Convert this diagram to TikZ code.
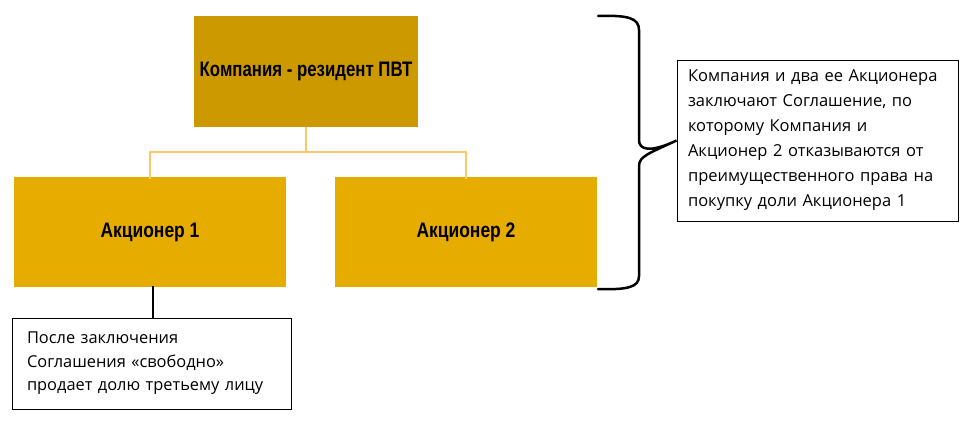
\documentclass[tikz,border=0pt]{standalone}
\usepackage{fontspec}
\setmainfont{Open Sans}
\newfontfamily\narrowfont[FakeStretch=0.83]{Liberation Sans}
\newfontfamily\narrowtopfont[FakeStretch=0.80]{Liberation Sans}
\begin{document}
\begin{tikzpicture}[x=1pt,y=-1pt,
  topbox/.style={fill=topcol,draw=none,inner sep=0pt,font=\narrowtopfont\bfseries\fontsize{21}{24}\selectfont},
  subbox/.style={fill=subcol,draw=none,inner sep=0pt,font=\narrowfont\bfseries\fontsize{21}{24}\selectfont},
  notebox/.style={draw=black,line width=1pt,inner ysep=0pt,align=left},
  link/.style={draw=linkcol,line width=2pt},
  blk/.style={draw=black,line width=2.5pt}]
\definecolor{topcol}{RGB}{204,153,0}
\definecolor{subcol}{RGB}{230,172,0}
\definecolor{linkcol}{RGB}{255,200,100}
\useasboundingbox (0,0) rectangle (973,429);
\node[topbox,minimum width=224,minimum height=111] (top) at (306,71.5) {Компания - резидент ПВТ};
\node[subbox,minimum width=272,minimum height=110] (a1) at (150,232) {Акционер 1};
\node[subbox,minimum width=262,minimum height=110] (a2) at (466,232) {Акционер 2};
\coordinate (mid) at (306,152);
\draw[link] (top.south) -- (mid) -| ([yshift=-2]a1.north);
\draw[link] (mid) -| ([yshift=-2]a2.north);
\node[notebox,font=\fontsize{16.4}{23.5}\selectfont,inner xsep=15pt,minimum width=279,minimum height=91,text width=249] (n1) at (151.5,363.5) {После заключения\\Соглашения «свободно»\\продает долю третьему лицу};
\draw[blk] ([xshift=3,yshift=1]a1.south) -- ([xshift=3]a1.south |- n1.north);
\node[notebox,font=\fontsize{16.5}{25}\selectfont,inner xsep=11pt,minimum width=281,minimum height=161,text width=259] (n2) at (817.5,140.5) {Компания и два ее Акционера\\заключают Соглашение, по\\которому Компания и\\Акционер 2 отказываются от\\преимущественного права на\\покупку доли Акционера 1};
\coordinate (bt) at (598,16);
\coordinate (bb) at (598,289);
\draw[blk,line cap=round] (bt) .. controls (628,15) and (639,18) .. (639,30) -- (639,140) .. controls (639,150) and (650,153) .. (n2.west) .. controls (650,153) and (639,156) .. (639,166) -- (639,276) .. controls (639,287) and (628,290) .. (bb);
\end{tikzpicture}
\end{document}
